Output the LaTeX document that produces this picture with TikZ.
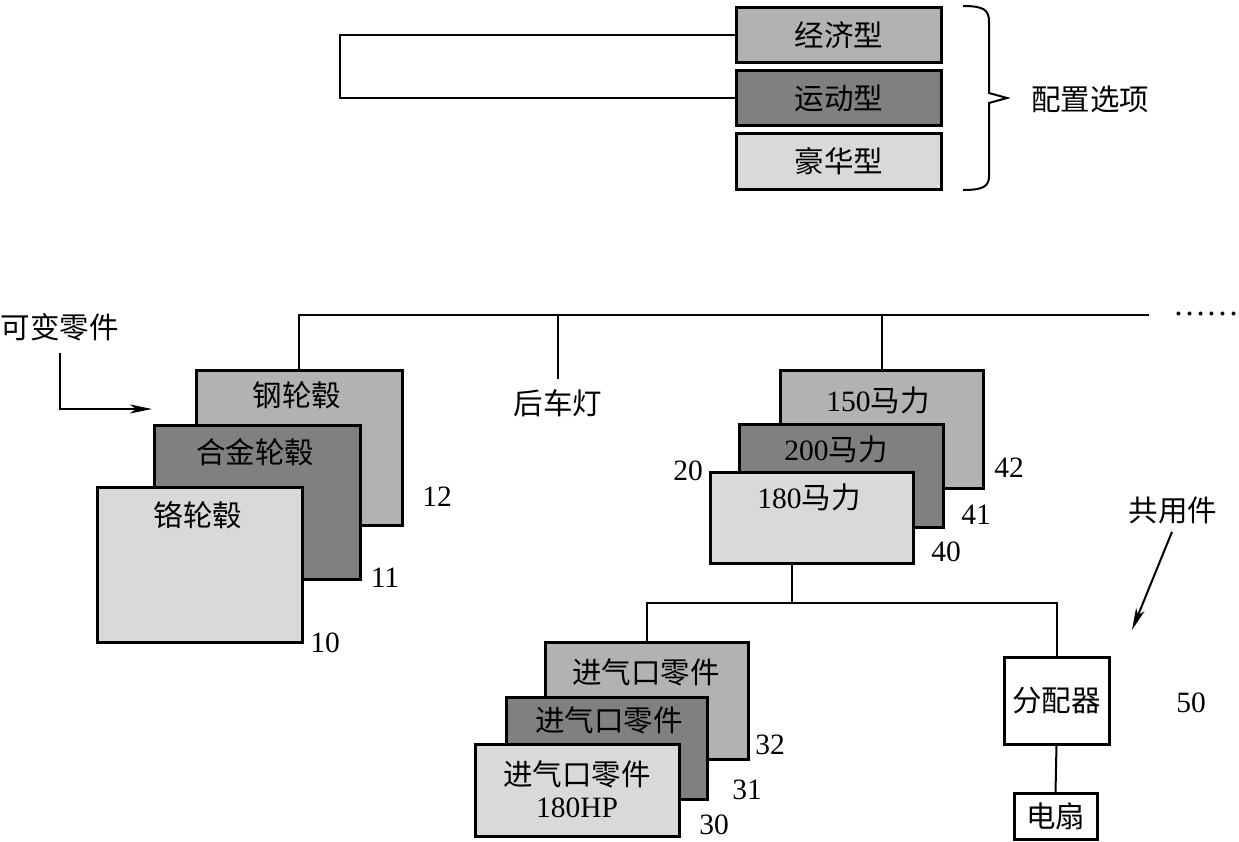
\documentclass[tikz,border=0pt]{standalone}
\usepackage{fontspec}
\setmainfont{Liberation Serif}
\newfontfamily\cjk{Noto Sans CJK SC}
\usetikzlibrary{arrows.meta}
\definecolor{gB}{gray}{0.70}
\definecolor{gM}{gray}{0.50}
\definecolor{gF}{gray}{0.85}
\begin{document}
\begin{tikzpicture}[x=1pt,y=-1pt,
  box/.style={draw, line width=3pt, inner sep=0pt, outer sep=0pt},
  back/.style={box, fill=gB},
  mid/.style={box, fill=gM},
  front/.style={box, fill=gF},
  plain/.style={box, fill=white},
  wire/.style={line width=2pt},
  txt/.style={font=\fontsize{29.5}{35}\selectfont, inner sep=0pt, align=center},
  arr/.style={wire, -{Stealth[length=22pt,width=9pt,inset=6pt]}}]
\useasboundingbox (0,0) rectangle (1239,841);

% ---- configuration options ----
\node[back,  minimum width=205pt, minimum height=55pt] (e1) at (839,35) {};
\node[mid,   minimum width=205pt, minimum height=55pt] (e2) at (839,98) {};
\node[front, minimum width=205pt, minimum height=56pt] (e3) at (839,161.5) {};
\node[txt] (t1) at (e1) {\cjk 经济型};
\node[txt] (t2) at (e2) {\cjk 运动型};
\node[txt] (t3) at (e3) {\cjk 豪华型};
\coordinate (L1) at (340,35);
\draw[wire] (e1.west) -- (L1) |- (e2.west);
\draw[wire] (963,6) .. controls (984,6) and (989,10) .. (989,22) -- (989,93) -- (1007,98) -- (989,103) -- (989,176) .. controls (989,186) and (984,190) .. (963,190);
\node[txt] (cfg) at (1090,99) {\cjk 配置选项};

% ---- main bus ----
\coordinate (B1) at (1149,315);
\node[txt, font=\fontsize{33}{38}\selectfont, anchor=base west] (dots) at (1173,315) {……};

% ---- wheels ----
\node[back,  minimum width=206pt, minimum height=155pt] (w12) at (299,447.5) {};
\node[mid,   minimum width=206pt, minimum height=154pt] (w11) at (257,502) {};
\node[front, minimum width=205pt, minimum height=155pt] (w10) at (199.5,564.5) {};
\node[txt] (tw12) at (297,395) {\cjk 钢轮毂};
\node[txt] (tw11) at (255,452) {\cjk 合金轮毂};
\node[txt] (tw10) at (198,515) {\cjk 铬轮毂};
\node[txt] (n12) at (437,497) {12};
\node[txt] (n11) at (385,578) {11};
\node[txt] (n10) at (325,643) {10};
\draw[wire] (w12.north) |- (B1);

\node[txt] (var) at (60,327) {\cjk 可变零件};
\coordinate (A1) at (152,409);
\draw[arr] ([yshift=-12pt]var.south) |- (A1);

% ---- rear lamp ----
\node[txt] (lamp) at (558,403) {\cjk 后车灯};
\draw[wire] ([yshift=10pt]lamp.north) -- (lamp.north |- B1);

% ---- horsepower ----
\node[back,  minimum width=203pt, minimum height=118pt] (h42) at (881.5,429) {};
\node[mid,   minimum width=204pt, minimum height=103pt] (h41) at (841,475.5) {};
\node[front, minimum width=203pt, minimum height=91pt] (h40) at (811.5,517.5) {};
\node[txt] (th42) at (878,400) {150{\cjk 马力}};
\node[txt] (th41) at (836,449) {200{\cjk 马力}};
\node[txt] (th40) at (809,497) {180{\cjk 马力}};
\node[txt] (n20) at (688,471) {20};
\node[txt] (n42) at (1009,468) {42};
\node[txt] (n41) at (976,515) {41};
\node[txt] (n40) at (946,552) {40};
\draw[wire] (h42.north) -- (h42.north |- B1);

% ---- intake parts ----
\node[back,  minimum width=203pt, minimum height=117pt] (i32) at (646.5,700.5) {};
\node[mid,   minimum width=201pt, minimum height=102pt] (i31) at (606.5,748) {};
\node[front, minimum width=204pt, minimum height=92pt] (i30) at (577,790) {};
\node[txt] (ti32) at (646,672) {\cjk 进气口零件};
\node[txt] (ti31) at (609,720) {\cjk 进气口零件};
\node[txt] (ti30) at (577,789) {{\cjk 进气口零件}\\[-3pt]180HP};
\node[txt] (n32) at (770,745) {32};
\node[txt] (n31) at (747,790) {31};
\node[txt] (n30) at (714,825) {30};

% ---- distributor / fan ----
\node[plain, minimum width=105pt, minimum height=87pt] (dist) at (1056.5,700.5) {};
\node[txt] at (dist) {\cjk 分配器};
\node[plain, minimum width=83pt, minimum height=46pt] (fan) at (1055.5,816) {};
\node[txt] at (fan) {\cjk 电扇};
\node[txt] (n50) at (1191,703) {50};
\draw[wire] (dist.south) -- (fan.north);

\coordinate (J) at (792,603);
\draw[wire] (J |- h40.south) -- (J);
\draw[wire] (i32.north) |- (J) -| (dist.north);

\node[txt] (shared) at (1173,510) {\cjk 共用件};
\coordinate (S1) at (1132,630);
\draw[arr] ([xshift=-1pt,yshift=-8pt]shared.south) -- (S1);
\end{tikzpicture}
\end{document}
